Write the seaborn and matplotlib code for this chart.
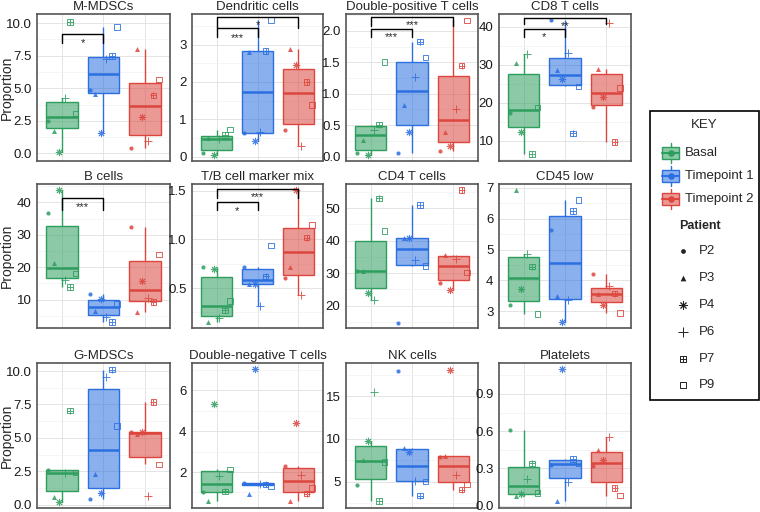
import numpy as np
import pandas as pd
import seaborn as sns
import matplotlib.pyplot as plt
import matplotlib.transforms as mtransforms
from matplotlib.colors import to_rgba
from matplotlib.patches import Rectangle
from matplotlib.ticker import AutoMinorLocator

sns.set_style("white")
plt.rcParams['font.family'] = ['Liberation Sans', 'DejaVu Sans']

groups = ['Basal', 'Timepoint 1', 'Timepoint 2']
patients = ['P2', 'P3', 'P4', 'P6', 'P7', 'P9']
colors = ['#2e9e5e', '#2b6fe0', '#dc463e']

# rows = groups, columns = patients (P2, P3, P4, P6, P7, P9)
m_mdscs = [[2.49, 1.74, 0.13, 4.28, 10.1, 3.07],
           [4.89, 4.58, 1.56, 7.23, 7.48, 9.70],
           [0.45, 8.04, 2.82, 0.98, 4.46, 5.69]]
dendritic = [[0.09, 0.50, 0.04, 0.46, 0.57, 0.72],
             [0.62, 2.80, 0.42, 0.66, 2.83, 3.66],
             [0.71, 2.88, 2.45, 0.28, 2.00, 1.38]]
dp_t = [[0.05, 0.26, 0.03, 0.42, 0.51, 1.51],
        [0.06, 0.82, 0.39, 1.26, 1.83, 1.58],
        [0.09, 0.39, 0.17, 0.76, 1.45, 2.17]]
cd8_t = [[17.3, 30.5, 12.3, 32.9, 6.4, 18.75],
         [41.8, 28.6, 26.25, 33.0, 11.9, 24.3],
         [18.75, 28.9, 21.4, 40.9, 9.6, 23.8]]
b_cells = [[36.7, 21.3, 43.9, 16.0, 13.8, 18.0],
           [11.8, 6.6, 10.2, 4.6, 3.1, 8.7],
           [32.4, 6.1, 15.6, 10.5, 9.25, 23.9]]
tb_mix = [[0.72, 0.15, 0.70, 0.19, 0.27, 0.37],
          [0.72, 0.54, 0.54, 0.32, 0.62, 0.94],
          [0.60, 0.72, 1.51, 0.43, 1.02, 1.15]]
cd4_t = [[30.7, 30.6, 23.8, 21.8, 53.0, 43.0],
         [14.6, 40.9, 40.9, 33.9, 51.0, 32.2],
         [26.9, 35.6, 24.7, 34.3, 55.6, 30.2]]
cd45_low = [[3.19, 6.92, 3.72, 4.85, 4.45, 2.91],
            [5.63, 3.50, 2.65, 3.35, 6.25, 6.60],
            [4.20, 3.57, 3.22, 3.83, 3.57, 2.95]]
g_mdscs = [[2.62, 0.55, 0.20, 2.35, 7.03, 2.39],
           [0.45, 2.27, 0.90, 9.55, 10.1, 5.89],
           [5.40, 5.25, 5.45, 0.62, 7.68, 3.02]]
dn_t = [[1.02, 0.56, 5.35, 1.80, 1.05, 2.13],
        [1.47, 0.93, 7.03, 1.42, 1.40, 1.33],
        [2.29, 0.58, 4.42, 1.87, 0.94, 1.22]]
nk_cells = [[4.6, 7.5, 9.7, 15.5, 2.7, 7.27],
            [18.0, 8.95, 8.44, 5.12, 3.36, 5.0],
            [7.85, 8.05, 18.1, 5.82, 4.06, 4.65]]
platelets = [[0.61, 0.075, 0.09, 0.21, 0.34, 0.10],
             [0.33, 0.04, 1.10, 0.19, 0.376, 0.345],
             [0.315, 0.45, 0.37, 0.55, 0.143, 0.08]]

# title, data, ylim, yticks, labels, brackets (g1, g2, text, bar y, leg end, text y) in axes fraction
specs = [
    ('M-MDSCs', m_mdscs, (-0.58, 10.7), [0, 2.5, 5, 7.5, 10], ['0.0', '2.5', '5.0', '7.5', '10.0'],
     [(0, 1, '*', 0.866, 0.804, 0.826)]),
    ('Dendritic cells', dendritic, (-0.12, 3.82), [0, 1, 2, 3], ['0', '1', '2', '3'],
     [(0, 2, '*', 0.977, 0.908, 0.947), (0, 1, '***', 0.908, 0.845, 0.861)]),
    ('Double-positive T cells', dp_t, (-0.07, 2.27), [0, 0.5, 1, 1.5, 2], ['0.0', '0.5', '1.0', '1.5', '2.0'],
     [(0, 2, '***', 0.977, 0.919, 0.947), (0, 1, '***', 0.901, 0.845, 0.866)]),
    ('CD8 T cells', cd8_t, (4.6, 43.4), [10, 20, 30, 40], ['10', '20', '30', '40'],
     [(0, 2, '**', 0.975, 0.929, 0.945), (0, 1, '*', 0.899, 0.843, 0.866)]),
    ('B cells', b_cells, (1.2, 45.7), [10, 20, 30, 40], ['10', '20', '30', '40'],
     [(0, 1, '***', 0.901, 0.820, 0.866)]),
    ('T/B cell marker mix', tb_mix, (0.09, 1.57), [0.5, 1.0, 1.5], ['0.5', '1.0', '1.5'],
     [(0, 2, '***', 0.965, 0.905, 0.935), (0, 1, '*', 0.873, 0.820, 0.836)]),
    ('CD4 T cells', cd4_t, (13.1, 57.4), [20, 30, 40, 50], ['20', '30', '40', '50'], []),
    ('CD45 low', cd45_low, (2.46, 7.12), [3, 4, 5, 6, 7], ['3', '4', '5', '6', '7'], []),
    ('G-MDSCs', g_mdscs, (-0.25, 10.6), [0, 2.5, 5, 7.5, 10], ['0.0', '2.5', '5.0', '7.5', '10.0'], []),
    ('Double-negative T cells', dn_t, (0.24, 7.34), [2, 4, 6], ['2', '4', '6'], []),
    ('NK cells', nk_cells, (1.9, 18.9), [5, 10, 15], ['5', '10', '15'], []),
    ('Platelets', platelets, (-0.02, 1.15), [0, 0.3, 0.6, 0.9], ['0.0', '0.3', '0.6', '0.9'], []),
]

dodge = [-0.33, -0.2, -0.07, 0.07, 0.2, 0.33]
W, H = 760, 512
cols = [(37, 170), (192, 323), (346, 478), (499, 631)]
rows = [(14, 161), (184, 328), (363, 508)]


def draw_marker(ax, x, y, p, c, scale=1.0):
    if p == 0:
        ax.scatter(x, y, marker='o', s=9 * scale, color=c, lw=0, zorder=4)
    elif p == 1:
        ax.scatter(x, y, marker='^', s=13 * scale, color=c, lw=0, zorder=4)
    elif p == 2:
        ax.scatter(x, y, marker=(8, 2, 0), s=22 * scale, color=c, lw=0.7, zorder=4)
    elif p == 3:
        ax.scatter(x, y, marker='+', s=36 * scale, color=c, lw=0.7, zorder=4)
    elif p == 4:
        ax.scatter(x, y, marker='s', s=16 * scale, facecolors='none', edgecolors=c, lw=0.7, zorder=4)
        ax.scatter(x, y, marker='+', s=16 * scale, color=c, lw=0.7, zorder=4)
    else:
        ax.scatter(x, y, marker='s', s=16 * scale, facecolors='none', edgecolors=c, lw=0.7, zorder=4)


fig = plt.figure(figsize=(W / 100, H / 100), dpi=100)

for k, (title, vals, ylim, yt, ylab, brackets) in enumerate(specs):
    r, cidx = divmod(k, 4)
    l, rr = cols[cidx]
    t, b = rows[r]
    ax = fig.add_axes([l / W, 1 - b / H, (rr - l) / W, (b - t) / H])

    for gi, g in enumerate(groups):
        sub = pd.DataFrame({'group': g, 'value': vals[gi]})
        n0 = len(ax.patches)
        sns.boxplot(data=sub, x='group', y='value', order=groups, color=colors[gi],
                    linecolor=colors[gi], saturation=1, width=0.76, showfliers=False,
                    showcaps=False, linewidth=1.0, medianprops={'linewidth': 1.8}, ax=ax)
        for patch in ax.patches[n0:]:
            patch.set_facecolor(to_rgba(colors[gi], 0.55))
            patch.set_edgecolor(colors[gi])
        for pi in range(len(patients)):
            draw_marker(ax, gi + dodge[pi], vals[gi][pi], pi, to_rgba(colors[gi], 0.85))

    trans = ax.get_xaxis_transform()
    ttrans = mtransforms.offset_copy(trans, fig=fig, y=-6.5, units='dots')
    for g1, g2, txt, ybar, yleg, ytxt in brackets:
        ax.plot([g1, g1, g2, g2], [yleg, ybar, ybar, yleg], color='black', lw=1.0,
                transform=trans, clip_on=False, zorder=5)
        ax.text((g1 + g2) / 2, ytxt, txt, transform=ttrans, ha='center', va='baseline',
                fontsize=8, zorder=5)

    ax.set_xlim(-0.6, 2.6)
    ax.set_ylim(*ylim)
    ax.set_yticks(yt)
    ax.set_yticklabels(ylab)
    ax.set_xticks([0, 1, 2])
    ax.set_xticklabels([])
    ax.yaxis.set_minor_locator(AutoMinorLocator(2))
    ax.set_axisbelow(True)
    ax.grid(True, which='major', color='#e4e4e4', lw=0.7)
    ax.grid(True, which='minor', axis='y', color='#f1f1f1', lw=0.5)
    ax.tick_params(axis='both', which='major', labelsize=9.5, length=2.5, width=0.8,
                   color='#444444', labelcolor='#1a1a1a', pad=1.5)
    ax.tick_params(axis='y', which='minor', length=0)
    for s in ax.spines.values():
        s.set_color('#555555')
        s.set_linewidth(1.2)
    ax.set_xlabel('')
    if cidx == 0:
        ax.set_ylabel('Proportion', fontsize=10)
        ax.yaxis.set_label_coords(-23 / (rr - l), 0.5)
    else:
        ax.set_ylabel('')
    ax.set_title(title, fontsize=9.5, pad=3)

# legend
lax = fig.add_axes([0, 0, 1, 1])
lax.set_xlim(0, W)
lax.set_ylim(H, 0)
lax.axis('off')
lax.add_patch(Rectangle((649.5, 110.5), 109.5, 289, fill=False, edgecolor='black', lw=1.2))
lax.text(704, 125, 'KEY', ha='center', va='center', fontsize=9.5)
for gi, (g, yc) in enumerate(zip(groups, [153, 176, 199])):
    c = colors[gi]
    lax.add_patch(Rectangle((662, yc - 6), 17, 12, facecolor=to_rgba(c, 0.55), edgecolor=c, lw=1))
    lax.plot([670.5, 670.5], [yc - 10, yc - 6], color=c, lw=1)
    lax.plot([670.5, 670.5], [yc + 6, yc + 10], color=c, lw=1)
    lax.plot([662, 679], [yc, yc], color=c, lw=1.5)
    lax.scatter([670.5], [yc], s=14, color=c, zorder=5)
    lax.text(685, yc, g, ha='left', va='center', fontsize=9.5)
lax.text(679, 226, 'Patient', ha='left', va='center', fontsize=9, fontweight='bold')
for pi, (p, yc) in enumerate(zip(patients, [251, 278, 305, 332, 359, 385])):
    draw_marker(lax, 683, yc, pi, '#222222', scale=1.3)
    lax.text(699, yc, p, ha='left', va='center', fontsize=9.5)

fig.savefig('out.png', dpi=100)
